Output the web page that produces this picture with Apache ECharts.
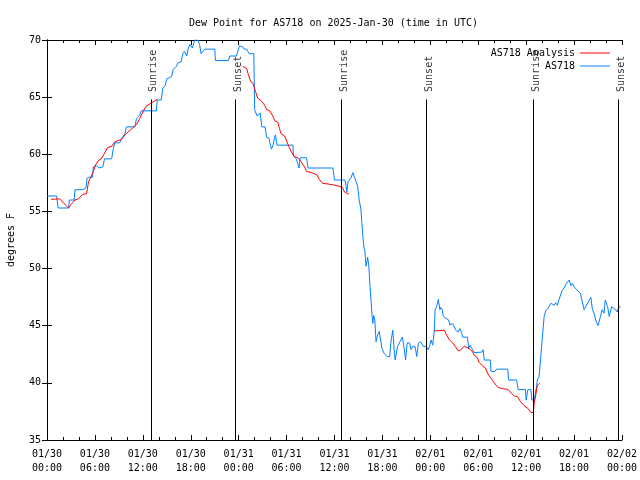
<!DOCTYPE html>
<html>
<head>
<meta charset="utf-8">
<script src="https://cdn.jsdelivr.net/npm/echarts@6/dist/echarts.min.js"></script>
<style>html,body{margin:0;padding:0;background:#fff}#c{width:640px;height:480px}</style>
</head>
<body>
<div id="c"></div>
<script>
// Hours since 2025-01-30 00:00 UTC
const obsTime = [0.0,1.2,1.4,2.7,2.8,3.4,3.5,4.5,4.9,5.0,5.3,5.7,5.8,6.2,6.5,7.0,7.2,8.1,8.3,8.5,9.1,9.3,9.75,9.95,11.0,11.2,11.6,11.8,13.7,13.8,14.3,14.5,14.8,15.0,15.6,15.8,16.2,16.4,16.8,17.0,17.2,17.5,17.7,17.9,18.2,18.4,18.5,18.9,19.1,19.3,19.5,19.75,21.0,21.1,22.7,22.9,23.7,23.9,24.1,24.5,24.7,25.0,25.3,25.9,26.0,26.3,26.5,26.7,26.8,26.9,27.3,27.5,27.8,27.9,28.1,28.3,28.5,28.6,28.8,30.8,30.85,31.0,31.2,31.4,31.55,31.7,32.5,32.7,35.8,36.0,37.3,37.4,37.55,37.7,37.9,38.1,38.3,38.5,38.7,38.9,39.1,39.3,39.4,39.55,39.7,39.8,39.95,40.15,40.3,40.45,40.6,40.7,40.8,40.9,41.05,41.2,41.4,41.6,41.8,41.95,42.2,42.6,42.9,43.1,43.3,43.5,43.6,43.9,44.2,44.5,44.75,44.9,45.1,45.4,45.6,45.8,46.1,46.3,46.5,46.8,47.1,47.5,47.7,47.9,48.1,48.3,48.5,48.6,48.8,49.0,49.2,49.3,49.5,49.6,49.8,50.3,50.45,50.8,51.0,51.2,51.5,51.7,51.95,52.05,52.65,52.8,52.95,53.3,53.5,54.5,54.6,54.75,55.5,55.6,56.1,56.3,57.7,57.8,58.8,59.0,59.9,60.0,60.2,60.6,60.7,61.0,61.1,61.3,61.4,61.6,61.8,62.0,62.25,62.45,62.7,62.9,63.1,63.5,63.7,63.9,64.1,64.3,64.5,64.75,64.95,65.2,65.4,65.6,65.8,66.0,66.4,66.8,67.0,67.25,67.5,67.9,68.1,68.3,68.5,68.7,69.0,69.3,69.5,69.75,69.9,70.2,70.4,70.7,70.9,71.2,71.4,71.6,71.85];
const obsDew = [56.35,56.35,55.3,55.3,56.0,56.0,56.9,56.9,57.1,57.9,58.0,58.0,58.9,59.0,58.8,58.9,59.6,59.6,60.5,61.0,61.0,61.3,61.8,62.4,62.4,63.1,63.4,63.8,63.8,64.75,64.75,65.8,66.0,66.6,66.8,67.4,67.7,68.0,68.1,68.8,69.0,68.6,69.3,69.6,69.3,69.8,70.0,70.0,69.6,68.8,68.9,69.2,69.2,68.2,68.2,68.6,68.6,69.0,69.5,69.4,69.2,69.2,68.8,68.8,63.9,63.35,63.2,63.6,63.0,62.4,62.4,61.5,61.4,61.0,60.45,60.8,60.9,61.7,60.8,60.8,59.9,59.8,59.6,59.2,58.8,59.7,59.7,58.8,58.8,57.75,57.75,57.4,56.7,57.6,57.75,58.0,58.4,58.0,57.6,57.2,55.9,55.3,54.25,52.8,51.8,51.6,50.2,51.0,50.2,48.4,47.0,45.9,45.2,45.9,45.5,43.6,44.2,44.5,44.4,43.0,42.6,42.3,42.3,43.75,44.6,42.6,42.0,43.2,43.6,44.0,42.9,42.0,43.5,43.5,42.9,43.2,43.15,42.3,43.46,43.6,43.2,43.2,42.9,43.2,43.75,43.3,44.6,46.4,46.7,47.3,46.4,46.6,46.4,45.9,45.7,45.5,45.06,45.2,45.06,44.6,44.45,44.75,44.3,44.0,44.0,43.0,43.3,42.9,42.64,42.7,42.9,42.0,42.0,41.0,41.0,41.2,41.2,40.25,40.25,39.4,39.43,38.5,39.4,39.4,38.5,38.5,38.9,39.67,40.25,40.5,42.0,43.75,45.8,46.3,46.5,46.5,46.96,46.8,47.0,46.8,47.25,47.4,48.1,48.3,48.6,48.7,49.0,48.5,48.7,48.4,48.1,47.83,47.7,46.4,46.4,47.25,47.5,46.4,46.1,45.5,45.0,45.8,46.4,46.1,47.25,46.66,45.8,46.66,46.8,46.4,46.2,46.7,46.6];

const anaTime = [0.5,1.6,2.0,2.4,2.7,3.0,3.5,3.9,4.5,4.96,5.2,5.5,5.8,6.1,6.5,6.8,7.2,7.6,8.1,8.5,9.3,9.9,10.4,11.2,11.6,12.0,12.4,13.1,13.8,
  19.0,
  24.5,25.0,25.2,25.5,25.8,26.1,26.4,26.8,27.25,27.5,27.9,28.3,28.5,28.9,29.1,29.3,29.75,29.96,30.3,30.6,31.0,31.4,31.8,32.25,32.5,33.1,33.8,34.1,34.5,35.2,36.0,36.6,37.0,37.25,37.5,37.8,
  43.0,
  48.5,49.1,49.75,49.96,50.4,50.8,51.1,51.5,51.8,52.25,52.5,52.9,53.3,53.5,53.9,54.1,54.5,54.9,55.2,55.5,55.8,56.2,56.5,57.0,57.7,58.0,58.5,58.9,59.3,59.75,60.2,60.6,60.9,61.0,61.2,61.4,61.7];
const anaDew = [56.06,56.1,55.8,55.5,55.3,55.6,56.0,56.1,56.5,56.55,57.6,58.0,58.5,59.1,59.5,59.6,60.1,60.6,60.7,61.1,61.3,61.8,62.1,62.6,63.1,63.7,64.2,64.5,64.8,
  null,
  67.7,67.5,67.0,66.35,66.2,65.5,64.9,64.7,64.3,63.9,63.8,63.3,62.95,62.8,62.27,61.8,61.6,61.25,60.66,60.2,59.8,59.7,59.35,58.9,58.5,58.4,58.2,57.8,57.46,57.4,57.3,57.2,57.1,56.7,56.6,56.5,
  null,
  44.54,44.57,44.6,44.3,43.75,43.5,43.2,42.8,42.9,43.2,43.3,43.0,42.7,42.4,42.2,41.8,41.5,41.3,40.8,40.5,40.2,39.8,39.6,39.5,39.43,39.2,38.85,38.8,38.35,38.0,37.77,37.4,37.4,38.2,38.94,39.8,39.96];

const eventTime = [13.0, 23.6, 36.9, 47.5, 60.9, 71.5];
const eventName = ['Sunrise','Sunset','Sunrise','Sunset','Sunrise','Sunset'];
const eventLineTop = 64.8;
const eventLabelBase = 65.45;

const tickDates = ['01/30','01/30','01/30','01/30','01/31','01/31','01/31','01/31','02/01','02/01','02/01','02/01','02/02'];
const tickTimes = ['00:00','06:00','12:00','18:00','00:00','06:00','12:00','18:00','00:00','06:00','12:00','18:00','00:00'];
const yTicks = [35,40,45,50,55,60,65,70];

const FONT = 'DejaVu Sans Mono';
const chart = echarts.init(document.getElementById('c'), null, {renderer:'canvas'});

const obsData = obsTime.map((t,i)=>[t, obsDew[i]]);
const anaData = anaTime.map((t,i)=>[t, anaDew[i]]);
const evLines = eventTime.map(t=>[{coord:[t,35]},{coord:[t,eventLineTop]}]);
const evLabels = eventTime.map((t,i)=>({value:[t,eventLabelBase], name:eventName[i]}));

const axisCommon = {
  type:'value', min:0, max:72, interval:6,
  axisLine:{show:true, lineStyle:{color:'#000', width:1}},
  axisTick:{show:true, inside:true, length:5, lineStyle:{color:'#000'}},
  minorTick:{show:true, splitNumber:3, length:3, lineStyle:{color:'#000'}},
  splitLine:{show:false}
};
const yCommon = {
  type:'value', min:yTicks[0], max:yTicks[yTicks.length-1], interval:5,
  axisLine:{show:true, lineStyle:{color:'#000', width:1}},
  axisTick:{show:true, inside:true, length:5, lineStyle:{color:'#000'}},
  splitLine:{show:false}
};

chart.setOption({
  animation:false,
  backgroundColor:'#fff',
  title:{text:'Dew Point for AS718 on 2025-Jan-30 (time in UTC)', left:184, top:13,
    textStyle:{fontFamily:FONT, fontSize:10, fontWeight:'normal', color:'#000'}},
  grid:{left:47, right:18, top:40, bottom:40, containLabel:false, outerBoundsMode:'none'},
  legend:[
    {data:['AS718 Analysis'], right:25, top:43, align:'right', icon:'rect', itemWidth:30, itemHeight:1, itemGap:5,
      textStyle:{fontFamily:FONT, fontSize:10, color:'#000'}},
    {data:['AS718'], right:25, top:56, align:'right', icon:'rect', itemWidth:30, itemHeight:1, itemGap:5,
      textStyle:{fontFamily:FONT, fontSize:10, color:'#000'}}
  ],
  xAxis:[
    Object.assign({}, axisCommon, {position:'bottom',
      axisLabel:{show:true, margin:7, lineHeight:14, fontFamily:FONT, fontSize:10, color:'#000',
        formatter:(v)=>{const i=Math.round(v/6); return tickDates[i]+'\n'+tickTimes[i];}}}),
    Object.assign({}, axisCommon, {position:'top', axisLabel:{show:false}})
  ],
  yAxis:[
    Object.assign({}, yCommon, {position:'left', name:'degrees F', nameLocation:'middle', nameGap:31, nameRotate:90,
      nameTextStyle:{fontFamily:FONT, fontSize:10, color:'#000'},
      axisLabel:{show:true, margin:6, fontFamily:FONT, fontSize:10, color:'#000'}}),
    Object.assign({}, yCommon, {position:'right', axisLabel:{show:false}})
  ],
  series:[
    {name:'AS718 Analysis', type:'line', xAxisIndex:0, yAxisIndex:0, data:anaData, symbol:'none', showSymbol:false,
      connectNulls:false, lineStyle:{color:'#ff0000', width:1}, itemStyle:{color:'#ff0000'}, z:3},
    {name:'AS718', type:'line', xAxisIndex:0, yAxisIndex:0, data:obsData, symbol:'none', showSymbol:false,
      lineStyle:{color:'#0080ff', width:1}, itemStyle:{color:'#0080ff'}, z:2,
      markLine:{silent:true, symbol:['none','none'], label:{show:false},
        lineStyle:{color:'#000', width:1, type:'solid'}, data:evLines}},
    {name:'events', type:'scatter', xAxisIndex:0, yAxisIndex:0, data:evLabels, symbol:'circle', symbolSize:0.1,
      itemStyle:{color:'rgba(0,0,0,0)'}, silent:true, z:4,
      label:{show:true, formatter:(p)=>p.name, rotate:90, position:[3,0], align:'left', verticalAlign:'middle',
        fontFamily:FONT, fontSize:10, color:'#000'}}
  ]
});
</script>
</body>
</html>
